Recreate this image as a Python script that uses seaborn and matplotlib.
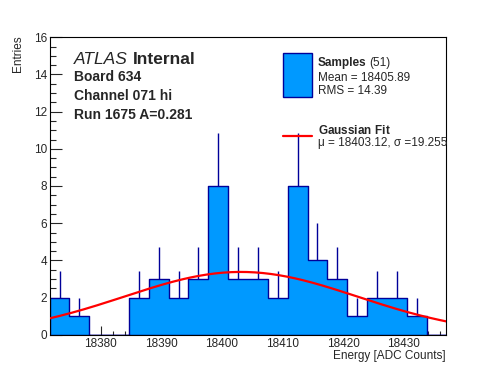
import numpy as np
import pandas as pd
import matplotlib
matplotlib.use("Agg")
import matplotlib.pyplot as plt
from matplotlib.patches import Rectangle
from matplotlib.lines import Line2D
from matplotlib.ticker import MultipleLocator
import seaborn as sns

# histogram data
x_min, x_max = 18371.6, 18437.0
counts = [2, 1, 0, 0, 2, 3, 2, 3, 8, 3, 3, 2, 8, 4, 3, 1, 2, 2, 1, 0]
n_entries = 51
mean_val, rms_val = 18405.89, 14.39

# gaussian fit parameters
fit_mu, fit_sigma, fit_amp = 18403.12, 19.255, 3.38

fill_col = "#0099ff"
edge_col = "#000099"

sns.set_style("ticks")
plt.rcParams['font.family'] = ['Liberation Sans', 'DejaVu Sans']
plt.rcParams['mathtext.fontset'] = 'custom'
plt.rcParams['mathtext.rm'] = 'Liberation Sans'
plt.rcParams['mathtext.bf'] = 'Liberation Sans:bold'

counts = np.array(counts, dtype=float)
n_bins = len(counts)
edges = np.linspace(x_min, x_max, n_bins + 1)
centers = 0.5 * (edges[:-1] + edges[1:])
df = pd.DataFrame({'energy': centers, 'n': counts})

fig = plt.figure(figsize=(4.96, 3.72), dpi=100)
ax = fig.add_axes([0.1, 0.1, 0.8, 0.8])

# error bars (drawn behind the histogram so only the upper half shows)
nz = counts > 0
ax.vlines(centers[nz], counts[nz] - np.sqrt(counts[nz]), counts[nz] + np.sqrt(counts[nz]),
          color=edge_col, lw=1, zorder=1)

sns.histplot(data=df, x='energy', weights='n', bins=n_bins, binrange=(x_min, x_max),
             element="step", fill=True, color=fill_col, alpha=1, edgecolor=edge_col,
             linewidth=1, zorder=2, ax=ax)

# gaussian fit curve
xf = np.linspace(x_min, x_max, 200)
yf = fit_amp * np.exp(-0.5 * ((xf - fit_mu) / fit_sigma) ** 2)
ax.plot(xf, yf, color="red", lw=1.6, zorder=3)

ax.set_xlim(x_min, x_max)
ax.set_ylim(0, 16)
ax.xaxis.set_major_locator(MultipleLocator(10))
ax.xaxis.set_minor_locator(MultipleLocator(2))
ax.yaxis.set_major_locator(MultipleLocator(2))
ax.yaxis.set_minor_locator(MultipleLocator(0.5))
ax.tick_params(axis='x', which='major', direction='in', length=6.5, width=0.8, labelsize=8.5, pad=2)
ax.tick_params(axis='x', which='minor', direction='in', length=3.2, width=0.8)
ax.tick_params(axis='y', which='major', direction='in', length=8.6, width=0.8, labelsize=8.5, pad=2)
ax.tick_params(axis='y', which='minor', direction='in', length=4.3, width=0.8)
for s in ax.spines.values():
    s.set_linewidth(0.8)
    s.set_color("black")
ax.set_xlabel("")
ax.set_ylabel("")

W, H = 496.0, 372.0
def fx(px):
    return px / W
def fy(py):
    return 1 - py / H

fig.text(fx(446), fy(359), "Energy [ADC Counts]", ha="right", va="baseline", fontsize=8.5)
fig.text(fx(18.5), fy(35), "Entries", ha="center", va="top", rotation=90, fontsize=8.5)

# ATLAS labels
fig.text(fx(74), fy(64), "ATLAS", style="italic", fontsize=12.5, va="baseline")
fig.text(fx(133), fy(64), "Internal", weight="bold", fontsize=12.5, va="baseline")
fig.text(fx(74), fy(81), "Board 634", weight="bold", fontsize=10, va="baseline")
fig.text(fx(74), fy(100), "Channel 071 hi", weight="bold", fontsize=10, va="baseline")
fig.text(fx(74), fy(119), "Run 1675 A=0.281", weight="bold", fontsize=10, va="baseline")

# legend
fig.patches.append(Rectangle((fx(283.3), fy(96.7)), fx(311.7) - fx(283.3), fy(53.3) - fy(96.7),
                             transform=fig.transFigure, facecolor=fill_col, edgecolor=edge_col, lw=1))
fig.text(fx(317.7), fy(65.7), "Samples", weight="bold", fontsize=8.5, va="baseline")
fig.text(fx(369.5), fy(65.7), "(%d)" % n_entries, fontsize=8.5, va="baseline")
fig.text(fx(317.7), fy(80.7), "Mean = %.2f" % mean_val, fontsize=8.5, va="baseline")
fig.text(fx(317.7), fy(94.0), "RMS = %.2f" % rms_val, fontsize=8.5, va="baseline")

fig.lines.append(Line2D([fx(283.3), fx(311.7)], [fy(136), fy(136)], transform=fig.transFigure,
                        color="red", lw=1.6))
fig.text(fx(317.7), fy(124), r"$\mathbf{Gaussian\ Fit}$" + "\n\u03bc = %.2f, \u03c3 =%.3f" % (fit_mu, fit_sigma),
         fontsize=8.5, va="top", linespacing=0.95)

fig.savefig("out.png", dpi=100)
